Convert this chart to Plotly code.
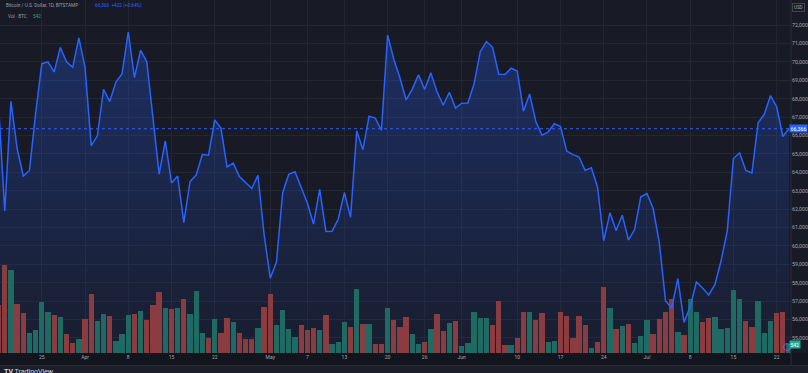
import plotly.graph_objects as go
import pandas as pd

# ---------------- data ----------------
start_date = "2024-03-18"
price = [
    # Mar 18 - Mar 31
    67600, 61900, 67850, 65300, 63800, 64100, 67200, 69900, 70000, 69450, 70780, 70000, 69700, 71300,
    # Apr
    69700, 65450, 65980, 68500, 67840, 68900, 69360, 71620, 69150, 70630, 70000, 67100, 63900, 65700,
    63420, 63800, 61270, 63500, 63850, 64960, 64930, 66840, 66400, 64290, 64500, 63770, 63460, 63120,
    63840, 60610,
    # May
    58250, 59120, 62880, 63890, 64030, 63160, 62330, 61190, 63070, 60790, 60800, 61450, 62900, 61550,
    66250, 65230, 67050, 66940, 66280, 71450, 70140, 69120, 67930, 68520, 69290, 68500, 69400, 68370,
    67640, 68350, 67490,
    # Jun
    67750, 67760, 68800, 70550, 71100, 70790, 69330, 69310, 69650, 69500, 67320, 68250, 66760, 66010,
    66190, 66640, 66490, 65150, 64960, 64830, 64100, 64250, 63180, 60280, 61800, 60840, 61670, 60320,
    60890, 62670,
    # Jul
    62850, 62030, 60170, 57030, 56630, 58230, 55850, 56700, 58040, 57720, 57340, 57900, 59180, 60800,
    64750, 65060, 64100, 63970, 66690, 67150, 68160, 67560, 65944, 66366,
]
volume = [
    # Mar 18 - Mar 31
    3000, 5481, 5171, 3038, 2499, 1259, 1445, 3162, 2561, 2375, 2232, 1159, 620, 887,
    # Apr
    2108, 3658, 1965, 2437, 2275, 763, 1178, 2337, 2399, 2629, 2071, 2957, 3763, 2771,
    2728, 2790, 3348, 2443, 3869, 1221, 911, 2108, 1265, 2170, 1947, 1265, 893, 849,
    1575, 2833,
    # May
    3658, 1761, 2666, 1469, 973, 1717, 1407, 1531, 1451, 2337, 558, 663, 1903, 1637,
    3949, 1823, 1779, 583, 583, 2790, 2071, 1637, 2257, 1178, 583, 663, 1469, 2399,
    1345, 1841, 1984,
    # Jun
    415, 601, 2523, 2151, 2151, 1736, 3249, 496, 521, 911, 2523, 2567, 2071, 2480,
    663, 744, 2542, 2294, 955, 2275, 1736, 291, 663, 4117, 2771, 1469, 1655, 1823,
    645, 1035,
    # Jul
    2027, 1178, 2108, 2523, 3348, 1283, 1141, 3348, 2523, 1947, 2151, 2232, 1488, 1575,
    3887, 3348, 1965, 1612, 3224, 1240, 1984, 2461, 2523, 542,
]
x_tick_dates = ["2024-03-25", "2024-04-01", "2024-04-08", "2024-04-15", "2024-04-22",
                "2024-05-01", "2024-05-07", "2024-05-13", "2024-05-20", "2024-05-26",
                "2024-06-01", "2024-06-10", "2024-06-17", "2024-06-24", "2024-07-01",
                "2024-07-08", "2024-07-15", "2024-07-22"]
x_tick_labels = ["25", "Apr", "8", "15", "22", "May", "7", "13", "20", "26",
                 "Jun", "10", "17", "24", "Jul", "8", "15", "22"]
price_ticks = list(range(55000, 73000, 1000))

dates = pd.date_range(start_date, periods=len(price), freq="D")

# ---------------- styles ----------------
BG = "#181b26"
BAND = "#12151d"
STRIP = "#1c1f2a"
GRID = "#222633"
TXT = "#a3a6af"
BLUE = "#2962ff"
UP = "#1f6b64"
DOWN = "#8a3c41"
FONT = "Roboto"

W, H = 808, 373
ML, MR, MT, MB = 0, 17, 0, 20
PW, PH = W - ML - MR, H - MT - MB

def px_x(p):
    return (p - ML) / PW

def px_y(p):
    return (H - MB - p) / PH

bar_colors = [DOWN] + [UP if price[i] >= price[i - 1] else DOWN for i in range(1, len(price))]

last = price[-1]
chg = price[-1] - price[-2]
pct = chg / price[-2] * 100

fig = go.Figure()

# area fill (base subplot)
fig.add_trace(go.Scatter(
    x=dates, y=price, mode="lines", line=dict(width=0, color=BLUE),
    fill="tozeroy",
    fillgradient=dict(type="vertical", start=54185, stop=max(price),
                      colorscale=[[0, "rgba(41,98,255,0.04)"], [1, "rgba(41,98,255,0.28)"]]),
    hoverinfo="skip", showlegend=False, yaxis="y"))

# volume bars
fig.add_trace(go.Bar(
    x=dates, y=volume, marker=dict(color=bar_colors, line=dict(width=0)),
    width=0.86 * 86400000, hoverinfo="skip", showlegend=False, yaxis="y2"))

# price line on top
fig.add_trace(go.Scatter(
    x=dates, y=price, mode="lines", line=dict(width=1.5, color=BLUE),
    hoverinfo="skip", showlegend=False, yaxis="y3"))

price_range = [54185, 73358]
x_range = ["2024-03-18 05:30", "2024-07-24 07:47"]

fig.update_layout(
    width=W, height=H,
    margin=dict(l=ML, r=MR, t=MT, b=MB),
    paper_bgcolor=BG, plot_bgcolor=BG,
    font=dict(family=FONT, color=TXT, size=5),
    showlegend=False,
    bargap=0,
    xaxis=dict(type="date", range=x_range, tickvals=x_tick_dates, ticktext=x_tick_labels,
               showgrid=True, gridcolor=GRID, gridwidth=1, ticks="", zeroline=False,
               showline=False, tickfont=dict(size=5, color=TXT, family=FONT)),
    yaxis=dict(range=price_range, side="right", tickvals=price_ticks, tickformat=",d",
               showgrid=True, gridcolor=GRID, gridwidth=1, ticks="", zeroline=False,
               showline=False, tickfont=dict(size=5.3, color=TXT, family=FONT)),
    yaxis2=dict(range=[0, PH * 62], overlaying="y", visible=False, showgrid=False),
    yaxis3=dict(range=price_range, overlaying="y", visible=False, showgrid=False),
)

shapes = []
# time-axis band and bottom strip
shapes.append(dict(type="rect", xref="paper", yref="paper", x0=-0.01, x1=W / PW + 0.01,
                   y0=px_y(365), y1=px_y(353), fillcolor=BAND, line=dict(width=0), layer="below"))
shapes.append(dict(type="rect", xref="paper", yref="paper", x0=-0.01, x1=W / PW + 0.01,
                   y0=px_y(374), y1=px_y(365.5), fillcolor=STRIP, line=dict(width=0), layer="below"))
shapes.append(dict(type="line", xref="paper", yref="paper", x0=-0.01, x1=W / PW + 0.01,
                   y0=px_y(365.5), y1=px_y(365.5), line=dict(color="#2a2e39", width=1)))
# price-scale separator
shapes.append(dict(type="line", xref="paper", yref="paper", x0=1, x1=1,
                   y0=px_y(365), y1=1, line=dict(color="#2a2e39", width=1)))
# last price dotted line
shapes.append(dict(type="line", xref="paper", yref="y3", x0=0, x1=1, y0=last, y1=last,
                   line=dict(color=BLUE, width=1, dash="dot")))
# small marker circle bottom right
shapes.append(dict(type="circle", xref="paper", yref="paper", x0=px_x(783.5), x1=px_x(790.5),
                   y0=px_y(350.5), y1=px_y(343.5), line=dict(color="#7e57c2", width=1)))
fig.update_layout(shapes=shapes)

ann = []
ann.append(dict(xref="paper", yref="paper", x=px_x(4), y=px_y(6), xanchor="left", yanchor="middle",
                text="Bitcoin / U.S. Dollar, 1D, BITSTAMP", showarrow=False,
                font=dict(size=4.7, color="#9a9da6", family=FONT)))
ann.append(dict(xref="paper", yref="paper", x=px_x(93), y=px_y(6), xanchor="left", yanchor="middle",
                text=f"{last:,}  {chg:+,} ({pct:+.2f}%)", showarrow=False,
                font=dict(size=4.7, color=BLUE, family=FONT)))
ann.append(dict(xref="paper", yref="paper", x=px_x(6), y=px_y(17), xanchor="left", yanchor="middle",
                text="Vol · BTC", showarrow=False, font=dict(size=4.7, color="#9a9da6", family=FONT)))
ann.append(dict(xref="paper", yref="paper", x=px_x(31), y=px_y(17), xanchor="left", yanchor="middle",
                text=f"{volume[-1]}", showarrow=False, font=dict(size=4.7, color="#22ab94", family=FONT)))
# USD box
ann.append(dict(xref="paper", yref="paper", x=px_x(792), y=px_y(7), xanchor="left", yanchor="middle",
                text="USD", showarrow=False, bordercolor="#434651", borderwidth=1, borderpad=1,
                font=dict(size=4.5, color=TXT, family=FONT)))
# last price label
ann.append(dict(xref="paper", yref="y3", x=px_x(789), y=last, xanchor="left", yanchor="middle",
                text=f"{last:,}", showarrow=False, bgcolor=BLUE, borderpad=0.5,
                font=dict(size=5.3, color="#ffffff", family=FONT)))
# last volume label
ann.append(dict(xref="paper", yref="y2", x=px_x(789), y=volume[-1], xanchor="left", yanchor="middle",
                text=f"{volume[-1]}", showarrow=False, bgcolor="#22ab94", borderpad=0.5,
                font=dict(size=5, color="#ffffff", family=FONT)))
# logo text
ann.append(dict(xref="paper", yref="paper", x=px_x(2), y=px_y(366), xanchor="left", yanchor="top",
                text="<b>TV</b> TradingView", showarrow=False,
                font=dict(size=7, color="#d1d4dc", family=FONT)))
fig.update_layout(annotations=ann)

fig.write_html(
    "out.html",
    config={"displayModeBar": False, "staticPlot": True},
    post_script="document.body.style.margin='0';document.body.style.overflow='hidden';"
                "document.body.style.background='" + BG + "';",
)
